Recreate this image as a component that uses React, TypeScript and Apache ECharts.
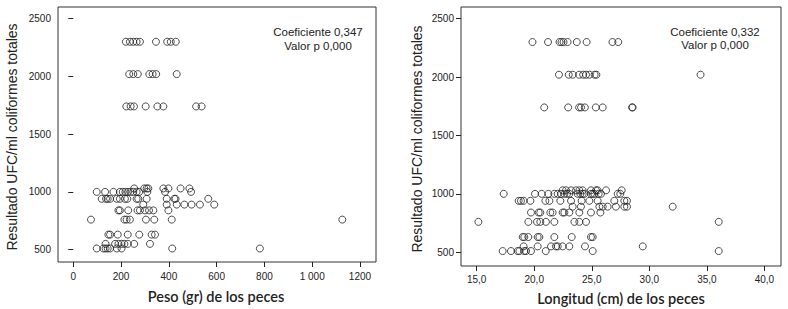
import React, { useEffect, useRef } from "react";
import * as echarts from "echarts";

// UFC/ml levels (y values)
const ufcLevels = [2300, 2020, 1740, 1030, 1000, 940, 890, 840, 760, 630, 550, 510];

// Peso (gr) of the fish at each UFC level
const pesoByLevel: number[][] = [
  [220, 237, 251, 265, 279, 346, 393, 408, 429],
  [234, 251, 270, 318, 332, 347, 433],
  [222, 240, 254, 303, 352, 377, 514, 537],
  [255, 297, 307, 314, 377, 398, 449, 486],
  [98, 133, 168, 195, 207, 218, 229, 240, 251, 265, 276, 310, 384, 493],
  [119, 137, 144, 154, 182, 195, 216, 226, 265, 272, 307, 391, 423, 428, 565],
  [293, 391, 433, 465, 495, 530, 590],
  [189, 195, 230, 269, 279, 300, 317, 335, 398],
  [74, 214, 223, 237, 304, 339, 412, 1126],
  [147, 154, 186, 228, 276, 328, 342],
  [135, 175, 189, 202, 214, 228, 255, 321],
  [98, 126, 135, 144, 154, 182, 202, 414, 781],
];

// Longitud (cm) of the fish at each UFC level
const longitudByLevel: number[][] = [
  [19.85, 21.2, 22.2, 22.37, 22.55, 22.9, 23.7, 24.55, 26.8, 27.3],
  [22.15, 23.0, 23.35, 23.9, 24.25, 24.5, 24.8, 25.25, 25.4, 34.45],
  [20.87, 22.95, 23.9, 24.07, 24.4, 25.35, 25.95, 28.5, 28.55],
  [22.47, 22.76, 23.2, 23.63, 23.92, 24.21, 24.93, 25.37, 25.51, 26.24, 27.6],
  [17.35, 20.07, 20.65, 21.23, 21.75, 22.04, 22.33, 22.62, 22.85, 23.05, 23.78, 24.01, 24.21, 24.36, 24.93, 25.08, 25.22, 25.6, 25.8, 27.25, 27.48],
  [18.65, 18.85, 19.08, 19.67, 20.97, 21.32, 22.27, 23.2, 24.12, 24.79, 25.51, 26.96, 27.83, 28.06],
  [23.34, 24.06, 25.66, 25.95, 26.38, 27.1, 27.83, 28.06, 32.03],
  [19.72, 20.39, 20.53, 21.4, 21.6, 22.47, 22.62, 23.05, 23.92, 24.93, 25.75],
  [15.15, 19.49, 20.24, 20.53, 21.02, 21.75, 23.49, 23.92, 24.5, 36.03],
  [19.0, 19.14, 19.49, 20.3, 20.45, 21.75, 23.26, 24.93, 25.08],
  [19.08, 20.3, 21.46, 21.89, 22.04, 22.47, 23.05, 24.41, 29.43],
  [17.26, 17.98, 18.56, 18.71, 19.14, 19.29, 19.72, 21.0, 25.08, 36.03],
];

const pesoTicks = [0, 200, 400, 600, 800, 1000, 1200];
const longitudTicks = [15, 20, 25, 30, 35, 40];
const ufcTicks = [500, 1000, 1500, 2000, 2500];

const yTitle = "Resultado UFC/ml coliformes totales";
const xTitleLeft = "Peso (gr) de los peces";
const xTitleRight = "Longitud (cm) de los peces";
const statsLeft = ["Coeficiente 0,347", "Valor p 0,000"];
const statsRight = ["Coeficiente 0,332", "Valor p 0,000"];

const toPairs = (byLevel: number[][]) =>
  byLevel.flatMap((xs, i) => xs.map((x) => [x, ufcLevels[i]]));

const NARROW = "'Liberation Sans Narrow', 'Arial Narrow', 'Liberation Sans', Arial, sans-serif";
const SANS = "'Liberation Sans', Arial, sans-serif";
const INK = "#222";

export default function App() {
  const ref = useRef<HTMLDivElement>(null);
  useEffect(() => {
    if (!ref.current) return;
    const chart = echarts.init(ref.current, undefined, { renderer: "svg" });

    const yAxisBase = (gridIndex: number, min: number, max: number) => ({
      type: "value",
      gridIndex,
      min,
      max,
      splitLine: { show: false },
      axisLine: { show: false },
      axisTick: {
        show: true,
        length: 5,
        lineStyle: { color: INK },
        customValues: ufcTicks,
      },
      axisLabel: {
        show: true,
        margin: 7,
        fontSize: 10,
        color: INK,
        fontFamily: NARROW,
        customValues: ufcTicks,
        formatter: (v: number) => String(Math.round(v)),
      },
    });

    const option: any = {
      animation: false,
      backgroundColor: "#fff",
      grid: [
        { left: 58, top: 7, width: 318, height: 255, show: true, borderColor: "#333", borderWidth: 1, backgroundColor: "transparent" },
        { left: 461, top: 7, width: 320, height: 259, show: true, borderColor: "#333", borderWidth: 1, backgroundColor: "transparent" },
      ],
      xAxis: [
        {
          type: "value",
          gridIndex: 0,
          min: -64,
          max: 1267,
          splitLine: { show: false },
          axisLine: { show: false },
          axisTick: { show: true, length: 5, lineStyle: { color: INK }, customValues: pesoTicks },
          axisLabel: {
            show: true,
            margin: 9,
            fontSize: 10,
            color: INK,
            fontFamily: NARROW,
            customValues: pesoTicks,
            formatter: (v: number) => (v >= 1000 && v < 1200 ? "1 000" : String(Math.round(v))),
          },
        },
        {
          type: "value",
          gridIndex: 1,
          min: 13.64,
          max: 41.44,
          splitLine: { show: false },
          axisLine: { show: false },
          axisTick: { show: true, length: 5, lineStyle: { color: INK }, customValues: longitudTicks },
          axisLabel: {
            show: true,
            margin: 8,
            fontSize: 10,
            color: INK,
            fontFamily: NARROW,
            customValues: longitudTicks,
            formatter: (v: number) => v.toFixed(1).replace(".", ","),
          },
        },
      ],
      yAxis: [yAxisBase(0, 393, 2601), yAxisBase(1, 382, 2600)],
      series: [
        {
          type: "scatter",
          xAxisIndex: 0,
          yAxisIndex: 0,
          data: toPairs(pesoByLevel),
          symbol: "circle",
          symbolSize: 7,
          itemStyle: { color: "rgba(255,255,255,0)", borderColor: INK, borderWidth: 1 },
          emphasis: { disabled: true },
        },
        {
          type: "scatter",
          xAxisIndex: 1,
          yAxisIndex: 1,
          data: toPairs(longitudByLevel),
          symbol: "circle",
          symbolSize: 7,
          itemStyle: { color: "rgba(255,255,255,0)", borderColor: INK, borderWidth: 1 },
          emphasis: { disabled: true },
        },
      ],
      graphic: [
        {
          type: "text",
          x: 12,
          y: 137,
          rotation: Math.PI / 2,
          style: { text: yTitle, fontSize: 14, fontFamily: SANS, fill: INK, textAlign: "center", textVerticalAlign: "middle" },
        },
        {
          type: "text",
          x: 417,
          y: 139,
          rotation: Math.PI / 2,
          style: { text: yTitle, fontSize: 14, fontFamily: SANS, fill: INK, textAlign: "center", textVerticalAlign: "middle" },
        },
        {
          type: "text",
          x: 216,
          y: 296,
          style: { text: xTitleLeft, fontSize: 14.5, fontWeight: 600, fontFamily: "Lato, 'Open Sans', sans-serif", fill: INK, textAlign: "center", textVerticalAlign: "middle" },
        },
        {
          type: "text",
          x: 621,
          y: 298,
          style: { text: xTitleRight, fontSize: 14.5, fontWeight: 600, fontFamily: "Lato, 'Open Sans', sans-serif", fill: INK, textAlign: "center", textVerticalAlign: "middle" },
        },
        {
          type: "text",
          x: 318,
          y: 39,
          style: { text: statsLeft.join("\n"), fontSize: 11.5, lineHeight: 14, fontFamily: SANS, fill: INK, textAlign: "center", textVerticalAlign: "middle" },
        },
        {
          type: "text",
          x: 715,
          y: 38,
          style: { text: statsRight.join("\n"), fontSize: 11.5, lineHeight: 13, fontFamily: SANS, fill: INK, textAlign: "center", textVerticalAlign: "middle" },
        },
      ],
    };

    chart.setOption(option);
    return () => chart.dispose();
  }, []);

  return (
    <div
      ref={ref}
      style={{ position: "fixed", left: 0, top: 0, width: 788, height: 309, background: "#fff" }}
    />
  );
}
